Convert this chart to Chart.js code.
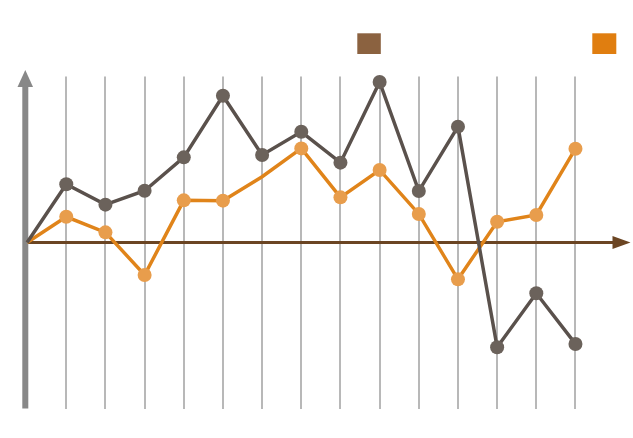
<!DOCTYPE html>
<html>
<head>
<meta charset="utf-8">
<script src="https://cdn.jsdelivr.net/npm/chart.js@4"></script>
<style>
  html, body { margin: 0; padding: 0; background: #fff; }
  #wrap { width: 633px; height: 438px; position: relative; }
</style>
</head>
<body>
<div id="wrap"><canvas id="myChart"></canvas></div>
<script>
// data (index 0 sits on the vertical axis)
var steps = [0, 1, 2, 3, 4, 5, 6, 7, 8, 9, 10, 11, 12, 13, 14];
var serieGris = [0, 3.51, 2.28, 3.12, 5.13, 8.84, 5.27, 6.67, 4.81, 9.67, 3.10, 6.98, -6.31, -3.06, -6.11];
var serieNaranja = [0, 1.55, 0.61, -1.96, 2.54, 2.52, 3.96, 5.67, 2.72, 4.37, 1.72, -2.22, 1.25, 1.66, 5.65];
var radioNaranja = [0, 7, 7, 7, 7, 7, 0, 7, 7, 7, 7, 7, 7, 7, 7];
var radioGris = [0, 7, 7, 7, 7, 7, 7, 7, 7, 7, 7, 7, 7, 7, 7];
var colores = { gris: "#5a514c", grisPunto: "#6b625b", naranja: "#e0841a", naranjaPunto: "#e89d4c",
  leyendaMarron: "#8b6240", leyendaNaranja: "#e07e10" };

var toPoints = (vals) => vals.map((v, i) => ({ x: steps[i], y: v }));

// ejes con flechas + cuadros de leyenda
var decoraciones = {
  id: "decoraciones",
  beforeDatasetsDraw(chart) {
    var c = chart.ctx;
    var a = chart.chartArea;
    var y0 = chart.scales.y.getPixelForValue(0);
    c.save();
    // eje vertical gris
    c.fillStyle = "#888888";
    c.fillRect(22.3, 84, 6, a.bottom - 84);
    c.beginPath();
    c.moveTo(25.3, 70);
    c.lineTo(33, 87);
    c.lineTo(17.5, 87);
    c.closePath();
    c.fill();
    // eje horizontal marron
    c.strokeStyle = "#6b4523";
    c.fillStyle = "#6b4523";
    c.lineWidth = 3;
    c.beginPath();
    c.moveTo(28, y0);
    c.lineTo(614, y0);
    c.stroke();
    c.beginPath();
    c.moveTo(630.5, y0);
    c.lineTo(612.5, y0 - 6.5);
    c.lineTo(612.5, y0 + 6.5);
    c.closePath();
    c.fill();
    // leyenda
    c.fillStyle = colores.leyendaMarron;
    c.fillRect(357.3, 33.3, 23.5, 20.7);
    c.fillStyle = colores.leyendaNaranja;
    c.fillRect(592.3, 33.3, 24, 20.7);
    c.restore();
  }
};

var canva = document.getElementById("myChart").getContext("2d");
var chart = new Chart(canva, {
  type: "line",
  data: {
    datasets: [
      {
        data: toPoints(serieGris),
        borderColor: colores.gris,
        backgroundColor: colores.grisPunto,
        pointBackgroundColor: colores.grisPunto,
        pointBorderWidth: 0,
        pointRadius: radioGris,
        borderWidth: 3.5,
        tension: 0,
        clip: false,
      },
      {
        data: toPoints(serieNaranja),
        borderColor: colores.naranja,
        backgroundColor: colores.naranjaPunto,
        pointBackgroundColor: colores.naranjaPunto,
        pointBorderWidth: 0,
        pointRadius: radioNaranja,
        borderWidth: 3.5,
        tension: 0,
        clip: false,
      },
    ],
  },
  options: {
    responsive: true,
    maintainAspectRatio: false,
    animation: false,
    layout: { padding: { left: 27.1, right: 2.5, top: 76.5, bottom: 29.5 } },
    scales: {
      x: {
        type: "linear",
        min: 0,
        max: 15.29,
        ticks: { display: false, stepSize: 1 },
        border: { display: false },
        grid: {
          drawTicks: false,
          lineWidth: 2,
          color: (ctx) => (ctx.tick && ctx.tick.value >= 1 && ctx.tick.value <= 14 ? "#b8b8b8" : "rgba(0,0,0,0)"),
        },
      },
      y: {
        display: false,
        min: -10,
        max: 10,
      },
    },
    plugins: {
      legend: { display: false },
      tooltip: { enabled: false },
    },
  },
  plugins: [decoraciones],
});
</script>
</body>
</html>
